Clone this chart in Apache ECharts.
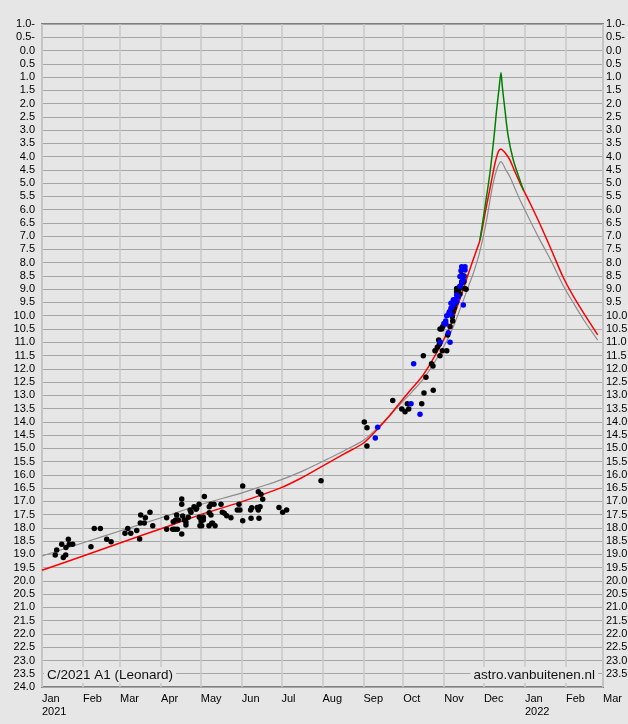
<!DOCTYPE html>
<html>
<head>
<meta charset="utf-8">
<title>C/2021 A1 (Leonard)</title>
<script src="https://cdn.jsdelivr.net/npm/echarts@6/dist/echarts.min.js"></script>
<style>
    html,body{margin:0;padding:0;background:#e6e6e6;}
    #chart{width:628px;height:724px;}
</style>
</head>
<body>
<div id="chart"></div>
<script>
'use strict';

// 所有日期均为 2021-01-01 之后的天数
var START = new Date(2021, 0, 1).getTime();
var DAY = 86400000;
var MONTHS = ['Jan','Feb','Mar','Apr','May','Jun','Jul','Aug','Sep','Oct','Nov','Dec'];

// 观测值（黑点）
var obsBlack = [
    [10,19.02],[11.1,18.83],[14.9,18.62],[16.1,19.12],[17.9,19.02],[18.1,18.74],[19.9,18.43],[20.6,18.62],[23.2,18.62],
    [37,18.71],[39.5,18.02],[44.1,18.02],[48.9,18.43],[52.2,18.52],
    [62.7,18.2],[64.8,18.02],[67.1,18.2],[71.6,18.1],[73.8,18.42],[74.6,17.51],[74.3,17.82],[77.3,17.82],[78.1,17.62],[81.6,17.41],[83.7,17.92],
    [94.2,17.62],[94.2,18.05],[98.8,18.05],[100.5,18.05],[102.3,18.05],[99.2,17.77],[101,17.7],[103,17.7],[101.8,17.51],
    [105.6,18.23],[105.6,17.11],[105.6,16.91],[106.3,17.55],[107.5,17.7],[108.8,17.89],[108.8,17.78],[110.6,17.6],
    [111.9,17.33],[112.6,17.41],[114.9,17.2],[116.4,17.3],[116.9,17.26],[118.7,17.11],[118.9,17.6],[119.4,17.92],[120.7,17.92],
    [120.2,17.74],[121.9,17.7],[122.7,16.82],[121.9,17.6],[126.2,17.92],[128.3,17.83],[126.4,17.2],[127.7,17.11],[130,17.11],
    [126.4,17.43],[127.7,17.51],[129,17.83],[130.8,17.92],[135.3,17.11],[136.3,17.41],[137.8,17.45],[139.6,17.54],[142.8,17.62],
    [147.6,17.33],[149.6,17.33],[148.9,17.11],[151.7,16.42],[151.7,17.73],[157.7,17.33],[158.5,17.24],[158,17.64],
    [162.7,17.23],[163.5,17.33],[164.8,17.2],[164,17.64],[163.5,16.64],[165.5,16.73],[166.8,16.92],
    [179.1,17.23],[181.9,17.41],[184.9,17.33],[210.9,16.22],
    [243.6,14.01],[245.6,14.22],[245.6,14.91],[265.1,13.2],[271.9,13.52],[274.4,13.62],[276.1,13.32],[277.2,13.52],
    [287,13.32],[288.7,12.91],[295.7,12.81],[290.2,12.32],[288.2,11.51],[294.4,11.81],[295.5,11.9],[297,11.32],[298.8,11.19],
    [300.3,11.08],[300.8,11.51],[302.6,11.32],[305.9,11.32],[299.8,10.92],[306.6,10.73],[302.9,10.41],[308.4,10.41],
    [300.8,10.5],[302.1,10.5],[310.4,10.2],[310.1,10.04],[311.6,9.7],[312.2,9.55],[310.6,9.85],[313.4,8.97],[313.4,9.1],[315.2,9.0],[315.9,9.18],
    [319.5,8.97],[320.5,9.0],[317.2,8.72],[318.9,8.72],[315.9,8.9],[317.2,8.47],[319,8.5]
];

// 观测值（蓝点）
var obsBlue = [
    [253.7,14.21],[251.9,14.61],[278.9,13.32],[285.7,13.72],[280.9,11.81],[301,11.0],[308.4,11.0],[305.3,10.31],[307.1,10.64],
    [303.8,10.29],[305.1,10.2],[305.9,10.0],[307.9,9.85],[309.1,9.95],[309.1,9.53],[310.9,9.47],[312.7,9.38],[313.4,9.47],
    [313.4,9.22],[314.6,9.28],[315.9,8.89],[317.2,8.78],[318.4,9.6],[318.4,8.5],[318.4,8.65],[315.9,8.52],[317.2,8.15],
    [319.7,8.15],[319.7,8.28],[316.7,8.3],[307.6,9.91],[309.1,9.72],[310.9,9.6],[310.9,9.4]
];

// 灰色曲线
var curveGray = [
    [0,19.06],[30,18.58],[60,18.1],[90,17.62],[120,17.12],[150,16.7],[165,16.45],[180,16.2],[196,15.88],[212,15.5],
    [228,15.1],[243,14.7],[254,14.2],[263,13.75],[271,13.32],[280,12.85],[288,12.4],[298,11.65],[308,10.75],[316,9.75],
    [323,8.8],[326,8.4],[330,7.75],[333.5,7.02],[336,6.4],[338.6,5.64],[341,5.0],[343.6,4.5],[345.5,4.27],[346.8,4.19],
    [348.6,4.3],[350,4.45],[353.7,4.77],[357,5.15],[361.3,5.64],[368.8,6.4],[376.4,7.15],[385,7.95],[393.8,8.85],
    [402,9.55],[410,10.2],[420,10.92]
];

// 红色曲线
var curveRed = [
    [0,19.6],[30,19.08],[60,18.55],[90,18.03],[120,17.5],[150,17.03],[180,16.5],[196,16.12],[212,15.67],[228,15.22],
    [243,14.8],[254,14.25],[263,13.75],[271,13.25],[280,12.72],[288,12.24],[298,11.42],[308,10.45],[316,9.35],[323,8.3],
    [329,7.45],[331,7.15],[335,6.1],[339,5.1],[342.4,4.25],[345,3.8],[346.8,3.71],[348.6,3.78],[351,3.92],[353.7,4.13],
    [357,4.52],[361.3,5.0],[368.8,5.75],[376.4,6.55],[385,7.52],[393.8,8.54],[402,9.3],[410,9.95],[420,10.72]
];

// 绿色曲线（近日点附近）
var curveGreen = [
    [331,7.15],[334.8,5.9],[338.6,4.6],[341.1,3.5],[342.4,2.87],[343.6,2.24],[345.6,1.36],[346.9,0.84],
    [347.9,1.36],[349.9,2.24],[352.4,3.25],[356.2,4.13],[361.3,4.9],[364,5.28]
];

function toTime(list){
    return list.map(function(p){
        return [START + p[0] * DAY, p[1]];
    });
}

function magLabel(v){
    return v < 0 ? Math.abs(v).toFixed(1) + '-' : v.toFixed(1);
}

var chart = echarts.init(document.getElementById('chart'));
var FONT = 'Liberation Sans, Arial, sans-serif';
var yBase = {
    type: 'value',
    inverse: true,
    min: -1,
    max: 24,
    interval: 0.5,
    axisLine: {show: false},
    axisTick: {show: false}
};

chart.setOption({
    backgroundColor: '#e6e6e6',
    animation: false,
    textStyle: {fontFamily: FONT},
    title: [{
        text: 'C/2021 A1 (Leonard)',
        left: 44,
        top: 667,
        padding: [1, 3],
        backgroundColor: '#e6e6e6',
        textStyle: {fontSize: 13.5, fontWeight: 'normal', color: '#111', fontFamily: FONT}
    }, {
        text: 'astro.vanbuitenen.nl',
        right: 30,
        top: 667,
        padding: [1, 3],
        backgroundColor: '#e6e6e6',
        textStyle: {fontSize: 13.5, fontWeight: 'normal', color: '#111', fontFamily: FONT}
    }],
    grid: {
        left: 42, right: 25, top: 24, bottom: 37,
        outerBoundsMode: 'none',
        show: true,
        backgroundColor: '#e6e6e6',
        borderColor: '#7f7f7f',
        borderWidth: 2
    },
    xAxis: {
        type: 'time',
        min: START,
        max: new Date(2022, 2, 1).getTime(),
        splitNumber: 14,
        axisLine: {show: false},
        axisTick: {show: false},
        splitLine: {show: true, lineStyle: {color: '#c8c8c8', width: 1.5}},
        axisLabel: {
            align: 'left',
            margin: 5,
            fontSize: 11,
            lineHeight: 13,
            color: '#000',
            showMinLabel: true,
            showMaxLabel: true,
            hideOverlap: false,
            formatter: function(value){
                var d = new Date(value);
                var m = MONTHS[d.getMonth()];
                return d.getMonth() === 0 ? m + '\n' + d.getFullYear() : m;
            }
        }
    },
    yAxis: [
        $extend({
            position: 'left',
            splitLine: {show: true, lineStyle: {color: '#a6a6a6', width: 1}},
            axisLabel: {margin: 7, fontSize: 11, color: '#000', formatter: magLabel}
        }),
        $extend({
            position: 'right',
            splitLine: {show: false},
            axisLabel: {margin: 3, fontSize: 11, color: '#000', formatter: magLabel, showMaxLabel: false}
        })
    ],
    series: [{
        type: 'line',
        data: toTime(curveGray),
        showSymbol: false,
        smooth: 0.3,
        lineStyle: {color: '#8c8c8c', width: 1.2},
        z: 2
    }, {
        type: 'line',
        data: toTime(curveRed),
        showSymbol: false,
        smooth: 0.3,
        lineStyle: {color: '#ff0000', width: 1.5},
        z: 3
    }, {
        type: 'line',
        data: toTime(curveGreen),
        showSymbol: false,
        smooth: 0.3,
        lineStyle: {color: '#008000', width: 1.5},
        z: 4
    }, {
        type: 'scatter',
        data: toTime(obsBlack),
        symbolSize: 5.5,
        itemStyle: {color: '#000', opacity: 1},
        z: 5
    }, {
        type: 'scatter',
        data: toTime(obsBlue),
        symbolSize: 5.5,
        itemStyle: {color: '#0000ff', opacity: 1},
        z: 6
    }]
});

// 合并 y 轴公共配置
function $extend(o){
    var r = {};
    for (var k in yBase) r[k] = yBase[k];
    for (var j in o) r[j] = o[j];
    return r;
}
</script>
</body>
</html>
